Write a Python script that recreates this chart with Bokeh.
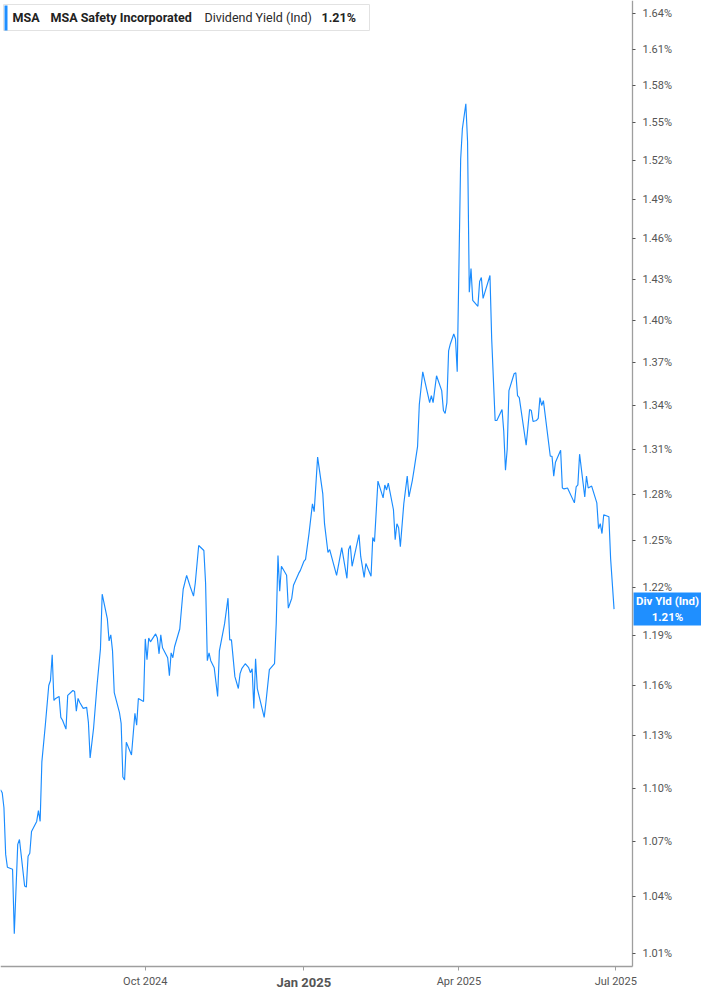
import math
import pandas as pd
from bokeh.plotting import figure
from bokeh.models import Range1d, FixedTicker, PrintfTickFormatter, Label
from bokeh.embed import file_html
from bokeh.resources import INLINE

# ---------------- data ----------------
dates = [
    "2024-07-09", "2024-07-10", "2024-07-11", "2024-07-12", "2024-07-13", "2024-07-16", "2024-07-17",
    "2024-07-19", "2024-07-20", "2024-07-23", "2024-07-24", "2024-07-25", "2024-07-26", "2024-07-27",
    "2024-07-30", "2024-07-31", "2024-08-01", "2024-08-02", "2024-08-04", "2024-08-06", "2024-08-07",
    "2024-08-08", "2024-08-09", "2024-08-10", "2024-08-12", "2024-08-13", "2024-08-14", "2024-08-16",
    "2024-08-17", "2024-08-20", "2024-08-21", "2024-08-22", "2024-08-23", "2024-08-24", "2024-08-26",
    "2024-08-28", "2024-08-29", "2024-08-30", "2024-09-01", "2024-09-03", "2024-09-05", "2024-09-06",
    "2024-09-09", "2024-09-10", "2024-09-11", "2024-09-12", "2024-09-13", "2024-09-16", "2024-09-17",
    "2024-09-18", "2024-09-19", "2024-09-20", "2024-09-23", "2024-09-25", "2024-09-26", "2024-09-27",
    "2024-09-30", "2024-10-01", "2024-10-02", "2024-10-03", "2024-10-04", "2024-10-07", "2024-10-08",
    "2024-10-09", "2024-10-10", "2024-10-11", "2024-10-14", "2024-10-15", "2024-10-16", "2024-10-17",
    "2024-10-18", "2024-10-21", "2024-10-23", "2024-10-25", "2024-10-27", "2024-10-29", "2024-10-30",
    "2024-11-01", "2024-11-04", "2024-11-05", "2024-11-06", "2024-11-07", "2024-11-08", "2024-11-10",
    "2024-11-12", "2024-11-13", "2024-11-16", "2024-11-18", "2024-11-19", "2024-11-20", "2024-11-22",
    "2024-11-24", "2024-11-25", "2024-11-26", "2024-11-28", "2024-11-30", "2024-12-01", "2024-12-02",
    "2024-12-03", "2024-12-04", "2024-12-05", "2024-12-09", "2024-12-10", "2024-12-12", "2024-12-15",
    "2024-12-16", "2024-12-17", "2024-12-18", "2024-12-19", "2024-12-22", "2024-12-23", "2024-12-25",
    "2024-12-26", "2024-12-29", "2024-12-30", "2025-01-01", "2025-01-02", "2025-01-04", "2025-01-06",
    "2025-01-07", "2025-01-09", "2025-01-12", "2025-01-13", "2025-01-15", "2025-01-16", "2025-01-20",
    "2025-01-23", "2025-01-26", "2025-01-27", "2025-01-28", "2025-01-29", "2025-02-02", "2025-02-03",
    "2025-02-05", "2025-02-06", "2025-02-09", "2025-02-10", "2025-02-11", "2025-02-13", "2025-02-16",
    "2025-02-17", "2025-02-18", "2025-02-19", "2025-02-22", "2025-02-23", "2025-02-24", "2025-02-25",
    "2025-02-26", "2025-02-28", "2025-03-02", "2025-03-03", "2025-03-05", "2025-03-06", "2025-03-08",
    "2025-03-09", "2025-03-11", "2025-03-15", "2025-03-16", "2025-03-17", "2025-03-19", "2025-03-22",
    "2025-03-23", "2025-03-24", "2025-03-25", "2025-03-26", "2025-03-27", "2025-03-29", "2025-03-30",
    "2025-03-31", "2025-04-02", "2025-04-03", "2025-04-05", "2025-04-06", "2025-04-07", "2025-04-08",
    "2025-04-09", "2025-04-12", "2025-04-13", "2025-04-14", "2025-04-15", "2025-04-19", "2025-04-20",
    "2025-04-22", "2025-04-23", "2025-04-26", "2025-04-27", "2025-04-28", "2025-04-29", "2025-04-30",
    "2025-05-03", "2025-05-04", "2025-05-05", "2025-05-06", "2025-05-10", "2025-05-12", "2025-05-13",
    "2025-05-14", "2025-05-16", "2025-05-17", "2025-05-18", "2025-05-19", "2025-05-20", "2025-05-24",
    "2025-05-25", "2025-05-26", "2025-05-27", "2025-05-30", "2025-05-31", "2025-06-01", "2025-06-03",
    "2025-06-07", "2025-06-08", "2025-06-09", "2025-06-10", "2025-06-13", "2025-06-14", "2025-06-15",
    "2025-06-17", "2025-06-20", "2025-06-21", "2025-06-22", "2025-06-23", "2025-06-24", "2025-06-27",
    "2025-06-28", "2025-06-30",
]

dividend_yield = [
    1.0990, 1.0973, 1.0889, 1.0630, 1.0560, 1.0549, 1.0204,
    1.0685, 1.0712, 1.0458, 1.0452, 1.0620, 1.0636, 1.0756,
    1.0812, 1.0873, 1.0812, 1.1149, 1.1362, 1.1597, 1.1627,
    1.1782, 1.1508, 1.1520, 1.1532, 1.1408, 1.1391, 1.1339,
    1.1538, 1.1567, 1.1561, 1.1444, 1.1520, 1.1496, 1.1461,
    1.1467, 1.1379, 1.1172, 1.1344, 1.1597, 1.1819, 1.2156,
    1.2002, 1.1867, 1.1904, 1.1806, 1.1555, 1.1438, 1.1373,
    1.1063, 1.1046, 1.1263, 1.1189, 1.1432, 1.1362, 1.1520,
    1.1502, 1.1879, 1.1752, 1.1885, 1.1861, 1.1910, 1.1885,
    1.1788, 1.1904, 1.1825, 1.1764, 1.1656, 1.1794, 1.1764,
    1.1831, 1.1940, 1.2187, 1.2275, 1.2206, 1.2144, 1.2225,
    1.2465, 1.2433, 1.2225, 1.1746, 1.1794, 1.1746, 1.1704,
    1.1532, 1.1806, 1.1971, 1.2131, 1.1873, 1.1873, 1.1650,
    1.1579, 1.1668, 1.1698, 1.1728, 1.1704, 1.1674, 1.1698,
    1.1461, 1.1758, 1.1579, 1.1408, 1.1496, 1.1692, 1.1728,
    1.1977, 1.2401, 1.2175, 1.2332, 1.2275, 1.2069, 1.2131,
    1.2212, 1.2287, 1.2306, 1.2363, 1.2376, 1.2542, 1.2736,
    1.2684, 1.3046, 1.2801, 1.2606, 1.2420, 1.2439, 1.2275,
    1.2452, 1.2256, 1.2439, 1.2465, 1.2332, 1.2535, 1.2395,
    1.2262, 1.2350, 1.2269, 1.2516, 1.2490, 1.2886, 1.2775,
    1.2860, 1.2827, 1.2873, 1.2697, 1.2503, 1.2606, 1.2580,
    1.2458, 1.2736, 1.2919, 1.2781, 1.2893, 1.2966, 1.3119,
    1.3405, 1.3633, 1.3418, 1.3466, 1.3418, 1.3605, 1.3501,
    1.3363, 1.3343, 1.3418, 1.3780, 1.3830, 1.3901, 1.3865,
    1.3633, 1.5211, 1.5454, 1.5653, 1.5352, 1.4203, 1.4378,
    1.4145, 1.4101, 1.4283, 1.4312, 1.4159, 1.4327, 1.3865,
    1.3295, 1.3295, 1.3370, 1.3221, 1.2959, 1.3099, 1.3501,
    1.3619, 1.3626, 1.3466, 1.3453, 1.3126, 1.3370, 1.3363,
    1.3288, 1.3295, 1.3309, 1.3453, 1.3398, 1.3432, 1.3052,
    1.3052, 1.2919, 1.3012, 1.3093, 1.2840, 1.2834, 1.2840,
    1.2742, 1.2847, 1.2860, 1.3066, 1.2781, 1.2919, 1.2840,
    1.2853, 1.2742, 1.2574, 1.2606, 1.2542, 1.2664, 1.2651,
    1.2382, 1.2063,
]

y_ticks = [1.01, 1.04, 1.07, 1.10, 1.13, 1.16, 1.19, 1.22, 1.25, 1.28, 1.31,
           1.34, 1.37, 1.40, 1.43, 1.46, 1.49, 1.52, 1.55, 1.58, 1.61, 1.64]
x_tick_dates = ["2024-10-01", "2025-01-01", "2025-04-01", "2025-07-01"]
x_tick_labels = ["Oct 2024", "Jan 2025", "Apr 2025", "Jul 2025"]
bold_tick_label = "Jan 2025"

ticker = "MSA"
company = "MSA Safety Incorporated"
metric = "Dividend Yield (Ind)"
metric_short = "Div Yld (Ind)"
last_label = "1.21%"

# ---------------- styling / layout ----------------
LINE = "#1a8cff"
BOX = "#1f8fff"
TXT = "#222222"
AX_TXT = "#555555"
AX_LINE = "#9e9e9e"
FONT = "Roboto"

FIG_W, FIG_H = 701, 989          # whole figure (fits the window with its margin)
PLOT_W, PLOT_H = 632, 966        # area inside the two axes
DAY = 86400000.0


def ms(d):
    return pd.Timestamp(d).value / 1e6


x_ms = [ms(d) for d in dates]
x_start = x_ms[0]
x_axis_end = x_start + 366.7 * DAY
x_frame_end = x_start + (x_axis_end - x_start) * FIG_W / PLOT_W
y_hi, y_axis_lo = 1.6509, 1.0033
LSPAN = math.log(y_hi) - math.log(y_axis_lo)
y_frame_lo = math.exp(math.log(y_hi) - LSPAN * FIG_H / PLOT_H)


def px_x(px):
    return x_start + (x_axis_end - x_start) * px / PLOT_W


def px_y(py):
    return math.exp(math.log(y_hi) - LSPAN * py / PLOT_H)


p = figure(width=FIG_W, height=FIG_H,
           x_axis_type="datetime", y_axis_type="log", y_axis_location="right",
           x_range=Range1d(x_start, x_frame_end), y_range=Range1d(y_frame_lo, y_hi),
           output_backend="svg", toolbar_location=None, min_border=0)

p.background_fill_color = "white"
p.border_fill_color = "white"
p.outline_line_color = None
p.grid.visible = False

p.line(x_ms, dividend_yield, line_color=LINE, line_width=1.15)

# y axis (right side, log scale), drawn at the right edge of the data area
ya = p.yaxis[0]
ya.fixed_location = x_axis_end
ya.bounds = (y_axis_lo, y_hi)
ya.ticker = FixedTicker(ticks=y_ticks, minor_ticks=[])
ya.formatter = PrintfTickFormatter(format="%.2f%%")
ya.axis_line_color = AX_LINE
ya.axis_line_width = 1.3
ya.major_tick_line_color = "#555555"
ya.major_tick_out = 3
ya.major_tick_in = 0
ya.minor_tick_line_color = None
ya.major_label_standoff = 7
ya.major_label_text_font = FONT
ya.major_label_text_font_size = "11px"
ya.major_label_text_color = AX_TXT

# x axis
xa = p.xaxis[0]
xa.fixed_location = y_axis_lo
xa.bounds = (x_start, x_axis_end)
tick_ms = [ms(d) for d in x_tick_dates]
xa.ticker = FixedTicker(ticks=tick_ms, minor_ticks=[])
xa.major_label_overrides = {t: ("" if lab == bold_tick_label else lab)
                            for t, lab in zip(tick_ms, x_tick_labels)}
xa.axis_line_color = AX_LINE
xa.axis_line_width = 1.3
xa.major_tick_line_color = AX_LINE
xa.major_tick_out = 4
xa.major_tick_in = 0
xa.minor_tick_line_color = None
xa.major_label_standoff = 4
xa.major_label_text_font = FONT
xa.major_label_text_font_size = "11px"
xa.major_label_text_color = AX_TXT

for t, lab in zip(tick_ms, x_tick_labels):
    if lab == bold_tick_label:
        p.add_layout(Label(x=t, y=y_axis_lo, y_offset=-16, text=lab, text_align="center",
                           text_baseline="middle", text_font=FONT, text_font_style="bold",
                           text_font_size="13px", text_color=AX_TXT))

# legend box (top-left)
p.rect(x=[px_x(186)], y=[px_y(17)], width=366, height=26, width_units="screen",
       height_units="screen", fill_color="white", line_color="#e2e2e2", line_width=1)
p.rect(x=[px_x(5.5)], y=[px_y(17.5)], width=3, height=25, width_units="screen",
       height_units="screen", fill_color=BOX, line_color=None)

for txt, off, style, col in [(ticker, 12, "bold", TXT), (company, 50, "bold", TXT),
                             (metric, 204, "normal", "#2a2a2a"), (last_label, 321, "bold", TXT)]:
    p.add_layout(Label(x=x_start, y=y_hi, x_offset=off, y_offset=-17, text=txt,
                       text_align="left", text_baseline="middle", text_font=FONT,
                       text_font_style=style, text_font_size="12.5px", text_color=col))

# last-value marker beside the right axis
last = dividend_yield[-1]
p.rect(x=[px_x(633 + 42)], y=[last], width=84, height=33, width_units="screen",
       height_units="screen", fill_color=BOX, line_color=None)
p.add_layout(Label(x=px_x(667), y=last, text=metric_short + "\n" + last_label,
                   text_align="center", text_baseline="middle", text_font=FONT,
                   text_font_style="bold", text_font_size="11.5px", text_color="white",
                   text_line_height=1.1))

open("out.html", "w").write(file_html(p, INLINE))
